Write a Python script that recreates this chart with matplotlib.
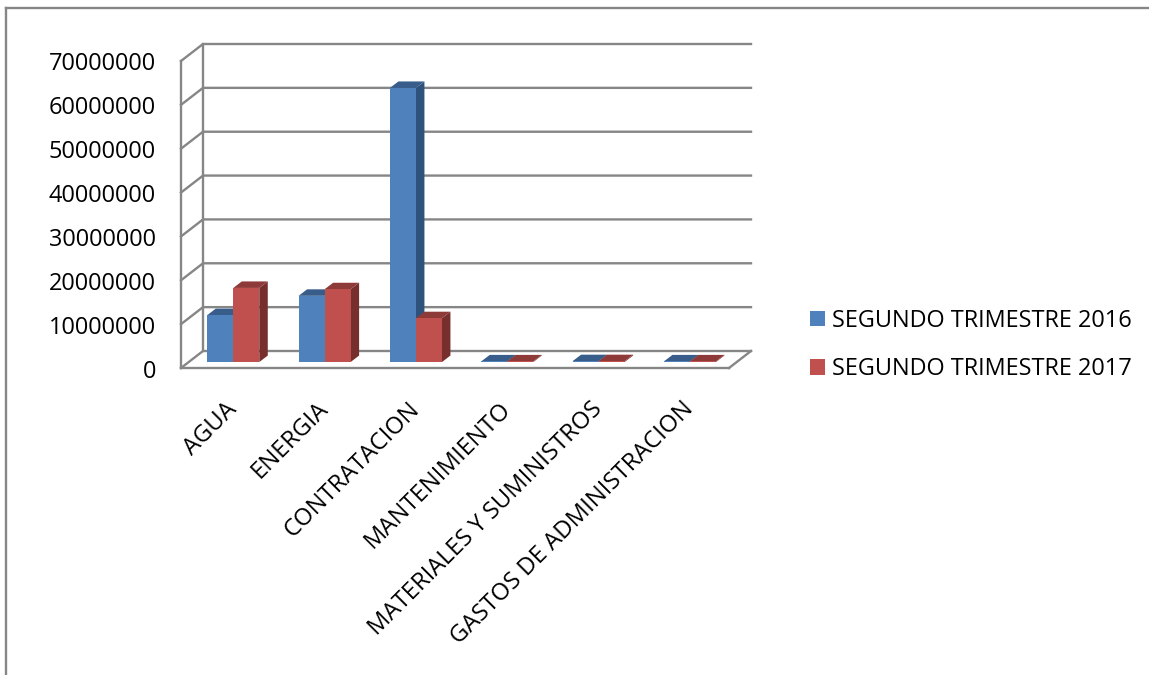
import matplotlib
matplotlib.use('Agg')
import matplotlib.pyplot as plt
from matplotlib.patches import Polygon, Patch
from matplotlib.lines import Line2D
from matplotlib.transforms import ScaledTranslation

plt.rcParams['font.family'] = ['Open Sans', 'DejaVu Sans']

categorias = ['AGUA', 'ENERGIA', 'CONTRATACION', 'MANTENIMIENTO',
              'MATERIALES Y SUMINISTROS', 'GASTOS DE ADMINISTRACION']
trimestre_2016 = [10700000, 15100000, 62500000, 150000, 200000, 150000]
trimestre_2017 = [16900000, 16600000, 10000000, 150000, 200000, 150000]
ticks = [0, 10000000, 20000000, 30000000, 40000000, 50000000, 60000000, 70000000]
nombres = ['SEGUNDO TRIMESTRE 2016', 'SEGUNDO TRIMESTRE 2017']

W, H = 1149, 675
fig = plt.figure(figsize=(W / 100, H / 100), dpi=100)
# ejes = plano frontal del grafico 3D
ax = fig.add_axes([181 / W, 1 - 368 / H, (729 - 181) / W, (368 - 61) / H])
ax.set_xlim(0, 6)
ax.set_ylim(0, 70000000)
ax.patch.set_alpha(0)

# profundidad de la caja en unidades de datos
px_x = 6 / (729 - 181)
px_y = 70000000 / (368 - 61)
dx, dy = 22 * px_x, 17 * px_y
gris = '#868686'


def linea(xs, ys, z=1):
    ax.add_line(Line2D(xs, ys, color=gris, lw=1.7, zorder=z, clip_on=False,
                       solid_capstyle='projecting'))


# rejilla: pared del fondo y pared izquierda
for t in ticks:
    linea([0, dx, 6 + dx], [t, t + dy, t + dy])
linea([dx, dx], [dy, 70000000 + dy])
# piso
linea([6, 6 + dx], [0, dy])


def barra(x0, ancho, valor, frente, lateral, arriba, z):
    # desplazamiento de la base dentro de la caja
    bx, by = dx * 0.35, dy * 0.35
    px, py = 8.5 * px_x, 6.5 * px_y
    x1 = x0 + ancho
    cara = [(x0, 0), (x1, 0), (x1, valor), (x0, valor)]
    lado = [(x1, 0), (x1 + px, py), (x1 + px, valor + py), (x1, valor)]
    tapa = [(x0, valor), (x1, valor), (x1 + px, valor + py), (x0 + px, valor + py)]
    for pts, col in ((lado, lateral), (tapa, arriba), (cara, frente)):
        pts = [(a + bx, b + by) for a, b in pts]
        ax.add_patch(Polygon(pts, closed=True, facecolor=col, edgecolor='none',
                             zorder=z, clip_on=False))


ancho = 26 * px_x
for i in range(len(categorias)):
    c = i + 0.5 - 0.012
    barra(c - ancho, ancho, trimestre_2016[i], '#4F81BD', '#2F527C', '#385D8A', 3)
    barra(c, ancho, trimestre_2017[i], '#C0504D', '#772F2E', '#8E3A38', 4)

for lado in ('top', 'right'):
    ax.spines[lado].set_visible(False)
for lado in ('left', 'bottom'):
    ax.spines[lado].set_color(gris)
    ax.spines[lado].set_linewidth(1.7)
    ax.spines[lado].set_zorder(5)

ax.set_yticks(ticks)
ax.set_yticklabels([str(t) for t in ticks], fontsize=16.9, color='black')
ax.tick_params(axis='y', length=0, pad=18)
for et in ax.get_yticklabels():
    et.set_transform(et.get_transform() + ScaledTranslation(0, -0.5 / 100, fig.dpi_scale_trans))
ax.set_xticks([i + 0.5 for i in range(6)])
ax.set_xticklabels(categorias, rotation=45, ha='right', rotation_mode='anchor',
                   fontsize=17.1, color='black')
ax.tick_params(axis='x', length=0, pad=21)
for et in ax.get_xticklabels():
    et.set_transform(et.get_transform() + ScaledTranslation(-2 / 100, 0, fig.dpi_scale_trans))

handles = [Patch(facecolor='#4F81BD', edgecolor='none'),
           Patch(facecolor='#C0504D', edgecolor='none')]
fig.legend(handles, nombres, loc='center left', bbox_to_anchor=(810 / W, 1 - 345 / H),
           frameon=False, fontsize=16.9, handlelength=0.64, handleheight=0.64,
           handletextpad=0.3, labelspacing=1.03, borderaxespad=0, borderpad=0)

# marco exterior
fig.add_artist(Line2D([6 / W, 6 / W], [0, 1 - 8 / H], color=gris, lw=1.7))
fig.add_artist(Line2D([6 / W, 1], [1 - 8 / H, 1 - 8 / H], color=gris, lw=1.7))

fig.savefig('out.png', dpi=100)
